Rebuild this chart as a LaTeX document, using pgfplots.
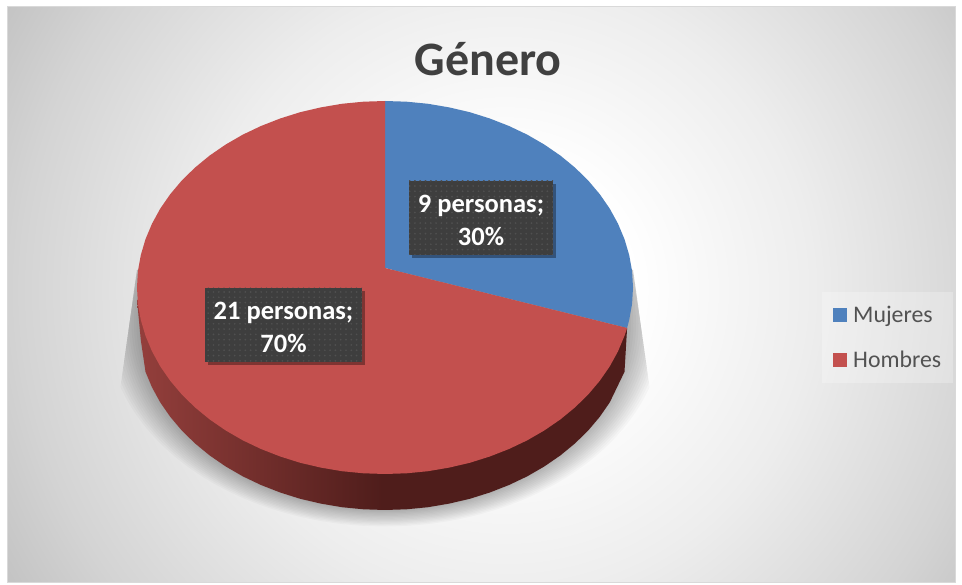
\documentclass[border=0pt]{standalone}
\usepackage{fontspec}
\setmainfont{Carlito}
\usepackage{pgfplots}
\pgfplotsset{compat=1.18}
\usetikzlibrary{patterns,shadows}
\definecolor{cblue}{HTML}{4F81BD}
\definecolor{cred}{HTML}{C3504E}
\definecolor{boxc}{HTML}{3E3E3E}
\definecolor{dotc}{HTML}{505050}
\definecolor{wa}{HTML}{943F3C}
\definecolor{wb}{HTML}{4F1D1B}
\pgfdeclarehorizontalshading{wallshade}{100bp}{color(0bp)=(wa);color(25bp)=(wa);color(50bp)=(wb);color(75bp)=(wb);color(100bp)=(wb)}
\pgfdeclareradialshading{bgshade}{\pgfpoint{0bp}{0bp}}{color(0bp)=(white);color(5bp)=(white);color(12bp)=(white!93!black);color(19bp)=(white!83!black);color(25bp)=(white!72!black);color(50bp)=(white!72!black)}
\pgfdeclarepatternformonly{bigdots}{\pgfqpoint{-1pt}{-1pt}}{\pgfqpoint{6pt}{6pt}}{\pgfqpoint{5.3pt}{5.3pt}}{%
  \pgfpathcircle{\pgfqpoint{1.5pt}{1.5pt}}{0.95pt}\pgfusepath{fill}}
\begin{document}
\begin{tikzpicture}[x=1pt,y=1pt]
% page, frame and background
\fill[white] (0,0) rectangle (962,585);
\begin{scope}
\clip (7,2) rectangle (955,578);
\shade[shading=bgshade] (505,295) circle (640);
\end{scope}
\draw[black!15,line width=1pt] (7,2) rectangle (955,578);
% soft shadow under the pie
\begin{scope}
\clip (137,315) -- (120,195) -- (118,20) -- (652,20) -- (650,195) -- (633,315) -- cycle;
\foreach \k in {0,...,13}{
  \fill[black,opacity=.022] (385,261.5) ellipse ({246+2.5*\k} and {186+1.3*\k});
}
\end{scope}
\fill[white,opacity=.25] (822,293) rectangle (953,202);
\begin{axis}[at={(0,0)},anchor=south west,
  width=962pt,height=585pt,scale only axis,hide axis,
  xmin=0,xmax=962,ymin=0,ymax=585,y dir=reverse,clip=false,
  legend style={at={(axis cs:833,292)},anchor=north west,draw=none,
    fill=none,
    inner xsep=0pt,inner ysep=0pt,
    font=\fontsize{23.8}{26}\selectfont,text=black!68,
    nodes={inner sep=0pt,anchor=west,minimum height=45pt,text depth=0pt},
    /tikz/column 1/.style={column sep=6pt},
    /tikz/column 2/.style={column sep=12pt},
    cells={anchor=west}},
  legend image code/.code={\fill[#1] (0pt,-7pt) rectangle (14pt,7pt);},
  legend cell align=left,
]
% side wall
\addplot[forget plot,draw=none,shading=wallshade] coordinates {
 (627.1,328) (624.5,371.8) (609.8,402.3) (599.8,416.75) (588.2,430.5) (575,443.4) (560.4,455.4) (544.4,466.4)
 (527.3,476.3) (509,485) (489.8,492.5) (469.8,498.8) (449.2,503.6) (428.1,507.2) (406.6,509.3) (385,510)
 (363.4,509.3) (341.9,507.2) (320.8,503.6) (300.2,498.8) (280.2,492.5) (261,485) (242.7,476.3) (225.6,466.4)
 (209.6,455.4) (195,443.4) (181.8,430.5) (170.2,416.75) (160.2,402.3) (152,387.3) (145.5,371.8) (140.8,340) (137,300) (385,300) (627.1,328)};
% Mujeres, 9 personas
\addplot[draw=none,fill=cblue] coordinates {
 (385,268) (385,101) (406.6,101.7) (428.1,103.8) (449.2,107.4) (469.8,112.2) (489.8,118.5) (509,126)
 (527.3,134.7) (544.4,144.6) (560.4,155.6) (575,167.6) (588.2,180.5) (599.8,194.25) (609.8,208.7) (618,223.7)
 (624.5,239.2) (629.2,255.1) (632.1,271.2) (633,287.5) (632.1,303.8) (629.2,319.9) (627.1,328) (385,268)};
\addlegendentry{Mujeres}
% Hombres, 21 personas
\addplot[draw=none,fill=cred] coordinates {
 (385,268) (627.1,328) (624.5,335.8) (618,351.3) (609.8,366.3) (599.8,380.75) (588.2,394.5) (575,407.4)
 (560.4,419.4) (544.4,430.4) (527.3,440.3) (509,449) (489.8,456.5) (469.8,462.8) (449.2,467.6) (428.1,471.2)
 (406.6,473.3) (385,474) (363.4,473.3) (341.9,471.2) (320.8,467.6) (300.2,462.8) (280.2,456.5) (261,449)
 (242.7,440.3) (225.6,430.4) (209.6,419.4) (195,407.4) (181.8,394.5) (170.2,380.75) (160.2,366.3) (152,351.3)
 (145.5,335.8) (140.8,319.9) (137.9,303.8) (137,287.5) (137.9,271.2) (140.8,255.1) (145.5,239.2) (152,223.7)
 (160.2,208.7) (170.2,194.25) (181.8,180.5) (195,167.6) (209.6,155.6) (225.6,144.6) (242.7,134.7) (261,126)
 (280.2,118.5) (300.2,112.2) (320.8,107.4) (341.9,103.8) (363.4,101.7) (385,101) (385,268)};
\addlegendentry{Hombres}
% title and labels
\node[text=black!75,font=\fontsize{48}{52}\selectfont\bfseries,inner sep=0pt] at (axis cs:488,59) {Género};
\tikzset{lab/.style={minimum height=74pt,align=center,inner sep=0pt,
  drop shadow={shadow xshift=3pt,shadow yshift=-3pt,fill=black,opacity=.35},
  preaction={fill=boxc},pattern=bigdots,pattern color=dotc}}
\node[lab,minimum width=144pt] at (axis cs:481,218) {};
\node[minimum width=144pt,align=center,text=white,font=\fontsize{26.5}{33}\selectfont\bfseries] at (axis cs:481,220) {9 personas;\\30\%};
\node[lab,minimum width=157pt] at (axis cs:283.5,325) {};
\node[minimum width=157pt,align=center,text=white,font=\fontsize{26.5}{33}\selectfont\bfseries] at (axis cs:283.5,327) {21 personas;\\70\%};
\end{axis}
\end{tikzpicture}
\end{document}
